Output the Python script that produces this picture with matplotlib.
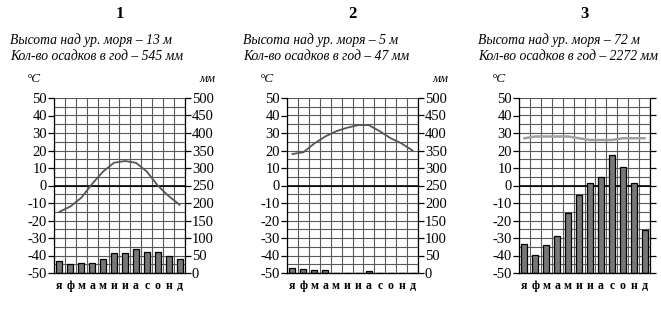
import matplotlib
matplotlib.use("Agg")
import matplotlib.pyplot as plt
import numpy as np

plt.rcParams['font.family'] = ['Liberation Serif', 'DejaVu Serif']
plt.rcParams['axes.unicode_minus'] = False

months = ["я", "ф", "м", "а", "м", "и", "и", "а", "с", "о", "н", "д"]

titles = ["1", "2", "3"]
heights = ["Высота над ур. моря – 13 м", "Высота над ур. моря – 5 м", "Высота над ур. моря – 72 м"]
precip_totals = ["Кол-во осадков в год – 545 мм", "Кол-во осадков в год – 47 мм", "Кол-во осадков в год – 2272 мм"]

temp1 = [-15, -12, -7, 1, 8, 13, 14, 13, 8, 0, -6, -11]
prec1 = [33, 25, 28, 28, 41, 57, 57, 68, 60, 60, 48, 41]

temp2 = [18, 19, 24, 28, 31, 33, 34.5, 34.5, 31, 27, 24, 20]
prec2 = [14, 11, 9, 8, 0, 0, 0, 5, 0, 0, 0, 0]

temp3 = [27, 28, 28, 28, 28, 27, 26, 26, 26, 27, 27, 27]
prec3 = [84, 52, 81, 107, 171, 222, 256, 275, 338, 303, 256, 124]

temps = [temp1, temp2, temp3]
precs = [prec1, prec2, prec3]
line_colors = ["#555555", "#555555", "#a0a0a0"]
line_widths = [1.3, 1.3, 1.8]

W, H = 661, 329
fig = plt.figure(figsize=(W / 100, H / 100), dpi=100)

lefts = [54, 287, 519]
text_x = [10, 243, 478]
ax_top, ax_bot = 98, 273
ax_w = 131

for i in range(3):
    l = lefts[i]
    rect = [l / W, (H - ax_bot) / H, ax_w / W, (ax_bot - ax_top) / H]
    ax2 = fig.add_axes(rect)  # precipitation (right axis), drawn below
    ax = fig.add_axes(rect, sharex=ax2)  # temperature (left axis), on top
    ax.patch.set_visible(False)

    x = np.arange(12)
    ax2.set_xlim(-0.5, 11.5)
    ax2.set_ylim(0, 500)
    ax.set_ylim(-50, 50)

    # grid on precipitation axes, below bars
    for k in range(13):
        ax2.axvline(k - 0.5, color="#5a5a5a", lw=0.8, zorder=0)
    for v in np.arange(0, 501, 25):
        ax2.axhline(v, color="#5a5a5a", lw=0.8, zorder=0)
    ax2.axhline(250, color="black", lw=1.2, zorder=0.5)

    ax2.bar(x, precs[i], width=0.55, color="#777777", edgecolor="black", lw=0.9, zorder=2)
    ax.plot(x, temps[i], color=line_colors[i], lw=line_widths[i], zorder=3)

    ax2.yaxis.tick_right()
    ax2.set_yticks(np.arange(0, 501, 50))
    ax2.tick_params(axis="y", direction="out", length=4, width=0.9, labelsize=10.5, pad=1)
    if i == 2:
        ax2.tick_params(axis="y", labelright=False)
    ax.set_yticks(np.arange(-50, 51, 10))
    ax.tick_params(axis="y", direction="out", length=4, width=0.9, labelsize=10.5, pad=1)

    ax2.set_xticks(x)
    ax2.set_xticklabels(months, fontweight="bold", fontsize=8.5)
    ax2.tick_params(axis="x", length=0, pad=5)
    ax.tick_params(axis="x", length=0, labelbottom=False)

    for a in (ax, ax2):
        for s in a.spines.values():
            s.set_linewidth(0.9)
        a.spines["top"].set_visible(False)
    ax2.spines["left"].set_visible(False)
    ax.spines["right"].set_visible(False)
    ax2.spines["bottom"].set_visible(False)
    ax.spines["bottom"].set_linewidth(1.0)

    cx = (l + ax_w / 2) / W
    fig.text(cx, 1 - 14 / H, titles[i], ha="center", va="center", fontsize=12, fontweight="bold")
    fig.text(text_x[i] / W, 1 - 40 / H, heights[i], ha="left", va="center", fontsize=9.8, style="italic")
    fig.text(text_x[i] / W, 1 - 57 / H, precip_totals[i], ha="left", va="center", fontsize=9.8, style="italic")
    fig.text((l - 20) / W, 1 - 79 / H, "°C", ha="center", va="center", fontsize=9.5, style="italic")
    if i < 2:
        fig.text((l + ax_w + 22) / W, 1 - 79 / H, "мм", ha="center", va="center", fontsize=9, style="italic")

fig.savefig("out.png", dpi=100, facecolor="white")
